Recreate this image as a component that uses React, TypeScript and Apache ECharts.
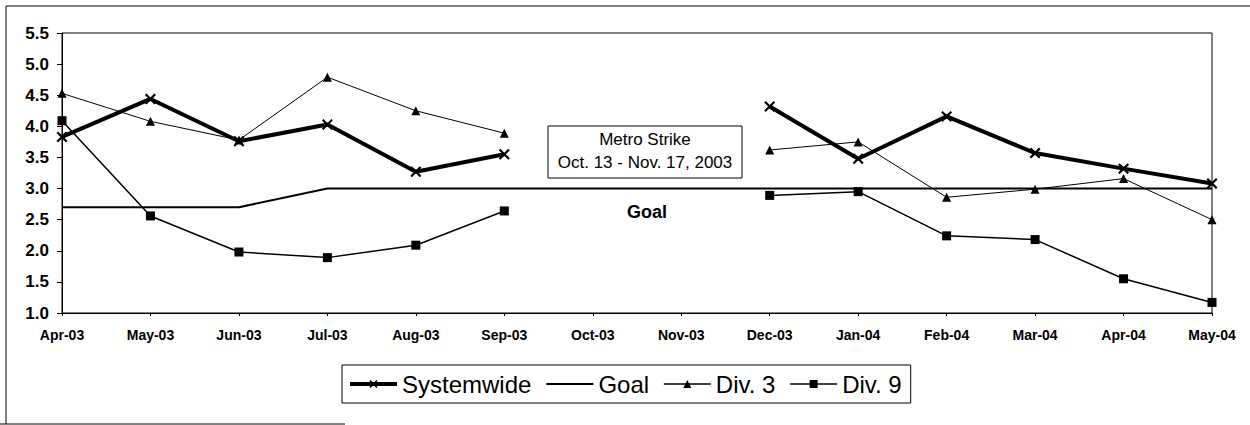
import React, { useEffect, useRef } from "react";
import * as echarts from "echarts";

const months = ["Apr-03", "May-03", "Jun-03", "Jul-03", "Aug-03", "Sep-03", "Oct-03", "Nov-03", "Dec-03", "Jan-04", "Feb-04", "Mar-04", "Apr-04", "May-04"];
const systemwide = [3.83, 4.44, 3.76, 4.03, 3.27, 3.55, null, null, 4.32, 3.48, 4.16, 3.57, 3.32, 3.08];
const goal = [2.7, 2.7, 2.7, 3.0, 3.0, 3.0, 3.0, 3.0, 3.0, 3.0, 3.0, 3.0, 3.0, 3.0];
const div3 = [4.53, 4.08, 3.78, 4.79, 4.25, 3.89, null, null, 3.62, 3.75, 2.86, 2.99, 3.16, 2.5];
const div9 = [4.09, 2.56, 1.98, 1.89, 2.09, 2.64, null, null, 2.89, 2.95, 2.24, 2.18, 1.55, 1.17];
const yTicks = { min: 1.0, max: 5.5, step: 0.5 };
const annotationLines = ["Metro Strike", "Oct. 13 - Nov. 17, 2003"];
const goalLabel = "Goal";

const FONT = "Arial, 'Liberation Sans', sans-serif";
const X_SYMBOL = "path://M0,1.4 L1.4,0 L5,3.6 L8.6,0 L10,1.4 L6.4,5 L10,8.6 L8.6,10 L5,6.4 L1.4,10 L0,8.6 L3.6,5 Z";

export default function App() {
  const ref = useRef<HTMLDivElement>(null);
  useEffect(() => {
    if (!ref.current) return;
    const chart = echarts.init(ref.current, null, { renderer: "svg" });
    chart.setOption({
      animation: false,
      backgroundColor: "#ffffff",
      textStyle: { fontFamily: FONT },
      grid: { left: 62, top: 33, right: 38, bottom: 112, show: true, borderColor: "#000", borderWidth: 1, containLabel: false },
      xAxis: {
        type: "category",
        data: months,
        boundaryGap: false,
        axisLine: { lineStyle: { color: "#000", width: 1 } },
        axisTick: { show: true, length: 3, lineStyle: { color: "#000" } },
        axisLabel: { color: "#000", fontWeight: "bold", fontSize: 14, margin: 15, fontFamily: FONT, interval: 0 },
        splitLine: { show: false },
      },
      yAxis: {
        type: "value",
        min: yTicks.min,
        max: yTicks.max,
        interval: yTicks.step,
        axisLine: { show: true, lineStyle: { color: "#000", width: 1 } },
        axisTick: { show: true, length: 5, lineStyle: { color: "#000" } },
        axisLabel: { color: "#000", fontWeight: "bold", fontSize: 17, margin: 13, fontFamily: FONT, formatter: (v: number) => v.toFixed(1) },
        splitLine: { show: false },
      },
      legend: {
        left: 342,
        top: 365,
        itemWidth: 47,
        itemHeight: 10,
        itemGap: 14,
        padding: [7, 9, 7, 6],
        borderColor: "#000",
        borderWidth: 1,
        textStyle: { color: "#000", fontSize: 24, fontFamily: FONT },
        data: [
          { name: "Systemwide", lineStyle: { width: 4 } },
          { name: "Goal", lineStyle: { width: 2 }, itemStyle: { opacity: 0 } },
          { name: "Div. 3", lineStyle: { width: 1.5 } },
          { name: "Div. 9", lineStyle: { width: 1.5 } },
        ],
      },
      series: [
        {
          name: "Systemwide",
          type: "line",
          data: systemwide,
          connectNulls: false,
          symbol: X_SYMBOL,
          symbolSize: 11,
          lineStyle: { color: "#000", width: 4 },
          itemStyle: { color: "#000" },
          z: 5,
        },
        {
          name: "Goal",
          type: "line",
          data: goal,
          symbol: "none",
          lineStyle: { color: "#000", width: 2 },
          itemStyle: { color: "#000" },
          z: 2,
        },
        {
          name: "Div. 3",
          type: "line",
          data: div3,
          connectNulls: false,
          symbol: "triangle",
          symbolSize: 9,
          lineStyle: { color: "#000", width: 1 },
          itemStyle: { color: "#000" },
          z: 3,
        },
        {
          name: "Div. 9",
          type: "line",
          data: div9,
          connectNulls: false,
          symbol: "rect",
          symbolSize: 9,
          lineStyle: { color: "#000", width: 1.5 },
          itemStyle: { color: "#000" },
          z: 4,
        },
      ],
      graphic: [
        { type: "polyline", shape: { points: [[6, 424], [6, 6], [1252, 6]] }, style: { stroke: "#000", lineWidth: 1, fill: null } },
        { type: "line", shape: { x1: 0, y1: 424, x2: 345, y2: 424 }, style: { stroke: "#000", lineWidth: 1 } },
        { type: "rect", shape: { x: 548, y: 126, width: 194, height: 52 }, style: { fill: "#fff", stroke: "#000", lineWidth: 1 }, z: 10 },
        { type: "text", x: 645, y: 139, style: { text: annotationLines[0], fill: "#000", fontSize: 17, fontFamily: FONT, align: "center", verticalAlign: "middle" }, z: 11 },
        { type: "text", x: 645, y: 162, style: { text: annotationLines[1], fill: "#000", fontSize: 17, fontFamily: FONT, align: "center", verticalAlign: "middle" }, z: 11 },
        { type: "text", x: 647, y: 212, style: { text: goalLabel, fill: "#000", fontSize: 18, fontWeight: "bold", fontFamily: FONT, align: "center", verticalAlign: "middle" }, z: 11 },
      ],
    });
    return () => chart.dispose();
  }, []);
  return <div ref={ref} style={{ position: "fixed", left: 0, top: 0, width: 1250, height: 425 }} />;
}
